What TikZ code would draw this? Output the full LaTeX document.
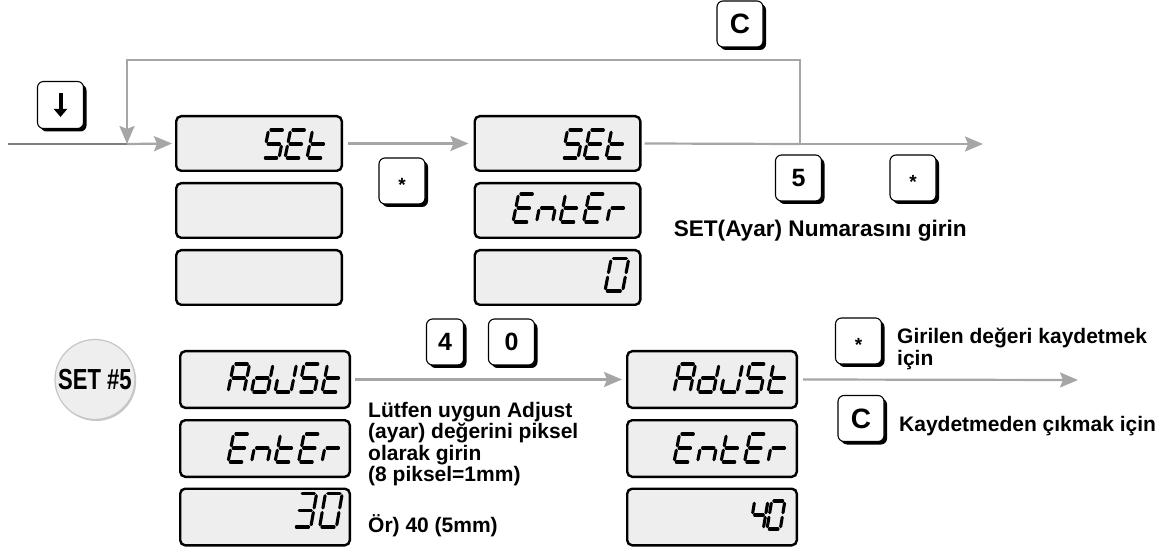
\documentclass[tikz,border=0pt]{standalone}
\usepackage{fontspec}
\setmainfont{Liberation Sans}
\usetikzlibrary{arrows.meta,shadows,calc}
\definecolor{lcdfill}{HTML}{EEEEEE}
\definecolor{flowgray}{HTML}{A6A6A6}
\definecolor{entrygray}{HTML}{7F7F7F}
\tikzset{
 lcdbox/.style={draw=black, line width=2.4pt, fill=lcdfill, rounded corners=5pt, inner sep=0pt},
 topbox/.style={lcdbox, minimum width=165.6pt, minimum height=54.6pt},
 botbox/.style={lcdbox, minimum width=169.6pt, minimum height=56.6pt},
 keybox/.style={draw=black, line width=1.1pt, fill=white, rounded corners=6pt, inner sep=0pt,
   minimum width=46pt, minimum height=46pt,
   drop shadow={shadow xshift=3pt, shadow yshift=-3pt, fill=black, opacity=1},
   font=\bfseries\fontsize{25}{25}\selectfont},
 flow/.style={draw=flowgray, line width=2.2pt},
 flowarrow/.style={flow, -{Stealth[length=18pt,width=15pt,inset=3pt]}},
 segline/.style={line width=3.1pt, line cap=round, shorten <=2.3pt, shorten >=2.3pt},
 note/.style={font=\bfseries\fontsize{21}{21.5}\selectfont, inner sep=0pt},
}
% seven-segment glyphs
\newcommand\lcdSa{\draw[segline] (TL) -- (TR);}
\newcommand\lcdSb{\draw[segline] (TR) -- (MR);}
\newcommand\lcdSc{\draw[segline] (MR) -- (BR);}
\newcommand\lcdSd{\draw[segline] (BL) -- (BR);}
\newcommand\lcdSe{\draw[segline] (ML) -- (BL);}
\newcommand\lcdSf{\draw[segline] (TL) -- (ML);}
\newcommand\lcdSg{\draw[segline] (ML) -- (MR);}
\expandafter\def\csname lcdLS\endcsname{a,f,g,c,d}
\expandafter\def\csname lcdLE\endcsname{a,f,g,e,d}
\expandafter\def\csname lcdLt\endcsname{f,g,e,d}
\expandafter\def\csname lcdLn\endcsname{g,c,e}
\expandafter\def\csname lcdLr\endcsname{g,e}
\expandafter\def\csname lcdLA\endcsname{a,b,c,e,f,g}
\expandafter\def\csname lcdLd\endcsname{b,c,d,e,g}
\expandafter\def\csname lcdLJ\endcsname{b,c,d,e}
\expandafter\def\csname lcdL0\endcsname{a,b,c,d,e,f}
\expandafter\def\csname lcdL3\endcsname{a,b,g,c,d}
\expandafter\def\csname lcdL4\endcsname{f,g,b,c}
\newcommand\lcdchar[5]{%
 \begin{scope}[shift={(#1,#2)}, xscale=#3, yscale=#4]
  \coordinate (TL) at (5.6,-28); \coordinate (TR) at (21.6,-28);
  \coordinate (ML) at (2.8,-14); \coordinate (MR) at (18.8,-14);
  \coordinate (BL) at (0,0); \coordinate (BR) at (16,0);
  \edef\lcdlist{\csname lcdL#5\endcsname}%
  \foreach \s in \lcdlist {\csname lcdS\s\endcsname}
 \end{scope}}
\newcommand\lcdword[6]{%
 \foreach \ch [count=\ci from 0] in {#6}{%
   \pgfmathsetmacro\lcdx{#1+\ci*#3}%
   \lcdchar{\lcdx}{#2}{#4}{#5}{\ch}}}
\begin{document}
\begin{tikzpicture}[x=1pt,y=-1pt]
\useasboundingbox (0,0) rectangle (1173,553);

% LCD boxes, top row
\node[topbox] (b11) at (259,143.5) {};
\node[topbox] (b12) at (259,210.5) {};
\node[topbox] (b13) at (259,277.5) {};
\node[topbox] (b21) at (557.5,143.5) {};
\node[topbox] (b22) at (557.5,210.5) {};
\node[topbox] (b23) at (557.5,277.5) {};
% LCD boxes, bottom row
\node[botbox] (c11) at (265,379.5) {};
\node[botbox] (c12) at (265,448.5) {};
\node[botbox] (c13) at (265,517) {};
\node[botbox] (c21) at (712,379.5) {};
\node[botbox] (c22) at (712,448.5) {};
\node[botbox] (c23) at (712,517) {};

% LCD texts
\lcdword{263}{158}{22}{1}{1}{S,E,t}
\lcdword{562}{158}{22}{1}{1}{S,E,t}
\lcdword{513}{222}{23.5}{1}{1}{E,n,t,E,r}
\lcdword{605}{291}{0}{1.1}{1.15}{0}
\lcdword{228}{392}{23.5}{1}{1}{A,d,J,S,t}
\lcdword{228}{462}{23.5}{1}{1}{E,n,t,E,r}
\lcdword{294}{527}{25.6}{1.05}{1.2}{3,0}
\lcdword{674}{392}{23.5}{1}{1}{A,d,J,S,t}
\lcdword{674}{462}{23.5}{1}{1}{E,n,t,E,r}
\lcdword{750}{529}{17}{0.83}{1}{4,0}

% keys
\node[keybox, minimum width=46pt, minimum height=47pt] (kdown) at (60.5,105) {};
\draw[line width=4pt, -{Triangle[length=8pt,width=13pt]}] ([yshift=12pt]kdown.center) -- ([yshift=-12pt]kdown.center);
\node[keybox, font=\bfseries\fontsize{28}{28}\selectfont] (kC1) at (740,24) {C};
\node[keybox, font=\bfseries\fontsize{19}{19}\selectfont] (kst1) at (402,181) {\raisebox{-0.57em}[0pt][0pt]{*}};
\node[keybox] (k5) at (798.5,178) {5};
\node[keybox, font=\bfseries\fontsize{19}{19}\selectfont] (kst2) at (913,178) {\raisebox{-0.57em}[0pt][0pt]{*}};
\node[keybox, minimum width=37pt] (k4) at (445,342) {4};
\node[keybox] (k0) at (511.5,342) {0};
\node[keybox, font=\bfseries\fontsize{19}{19}\selectfont] (kst3) at (858.5,341) {\raisebox{-0.57em}[0pt][0pt]{*}};
\node[keybox, font=\bfseries\fontsize{28}{28}\selectfont] (kC2) at (861,418.5) {C};

% SET #5 badge
\node[circle, minimum size=80pt, inner sep=0pt, fill=gray!13, draw=gray!45, line width=1.2pt,
  drop shadow={shadow xshift=1.2pt, shadow yshift=-1.5pt, fill=gray!45, opacity=1},
  font=\bfseries\fontsize{29}{29}\selectfont] (set5) at (95,379.5) {\scalebox{0.76}[1]{SET \#5}};

% connectors, top
\coordinate (in) at (8,144);
\coordinate (j) at (127,144);
\coordinate (split) at (800,144);
\coordinate (out1) at (983,144);
\coordinate (loopR) at (800,60);
\coordinate (loopL) at (127,60);
\draw[line width=2.2pt, draw=entrygray] (in) -- (j);
\draw[flowarrow] (j) -- ([xshift=-3pt]b11.west);
\draw[flowarrow] ([xshift=5pt]b11.east) -- ([xshift=-5pt]b21.west);
\draw[flow] ([xshift=3pt]b21.east) -- (split);
\draw[flowarrow] (split) -- (out1);
\draw[flowarrow] (split) -- (loopR) -- (loopL) -- (j);

% connectors, bottom
\coordinate (out2) at (1078,380);
\draw[flowarrow] ([xshift=4pt]c11.east) -- ([xshift=-4pt]c21.west);
\draw[flowarrow] ([xshift=5pt]c21.east) -- (out2);

% notes
\node[note, anchor=base east, font=\bfseries\fontsize{22.6}{23}\selectfont] (tset) at (967,237) {SET(Ayar) Numarasını girin};
\node[note, anchor=base west] (p1) at (368,417) {Lütfen uygun Adjust};
\node[note, anchor=base west] (p2) at (368,438.5) {(ayar) değerini piksel};
\node[note, anchor=base west] (p3) at (368,460) {olarak girin};
\node[note, anchor=base west] (p4) at (368,481.5) {(8 piksel=1mm)};
\node[note, anchor=base west] (p5) at (368,532) {Ör) 40 (5mm)};
\node[note, anchor=base west] (r1) at (897,344) {Girilen değeri kaydetmek};
\node[note, anchor=base west] (r2) at (897,366) {için};
\node[note, anchor=base west] (r3) at (899,431) {Kaydetmeden çıkmak için};
\end{tikzpicture}
\end{document}
